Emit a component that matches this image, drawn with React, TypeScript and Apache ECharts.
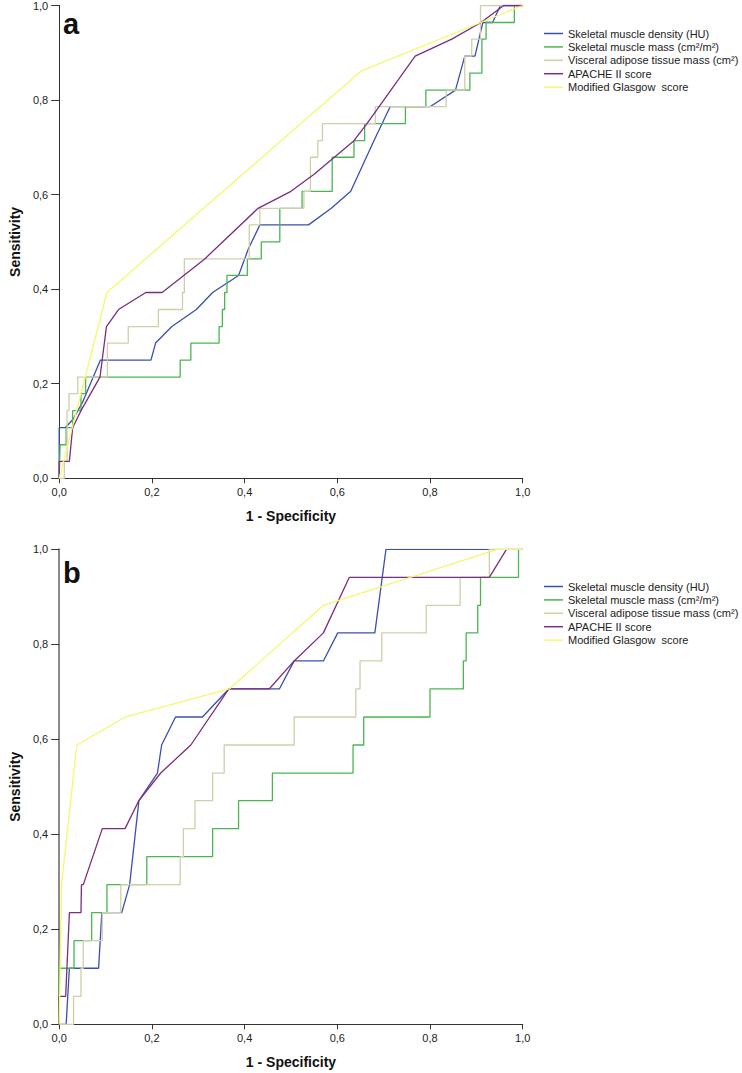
import React, { useEffect, useRef } from "react";
import * as echarts from "echarts";

type Pt = [number, number];

const seriesNames = [
  "Skeletal muscle density (HU)",
  "Skeletal muscle mass (cm²/m²)",
  "Visceral adipose tissue mass (cm²)",
  "APACHE II score",
  "Modified Glasgow  score",
];
const seriesColors = ["#3a4fb0", "#4bb552", "#cfcfa8", "#7b2d7f", "#f7f76e"];
const tickValues = [0, 0.2, 0.4, 0.6, 0.8, 1.0];
const panelLabels = ["a", "b"];

// Panel a
const aDensity: Pt[] = [
  [0, 0], [0, 0.107], [0.013, 0.107], [0.03, 0.125], [0.05, 0.16], [0.089, 0.25], [0.198, 0.25],
  [0.208, 0.286], [0.243, 0.321], [0.296, 0.357], [0.331, 0.393], [0.387, 0.429], [0.408, 0.485],
  [0.433, 0.536], [0.538, 0.536], [0.587, 0.571], [0.629, 0.607], [0.679, 0.714], [0.714, 0.786],
  [0.8, 0.786], [0.855, 0.821], [0.875, 0.893], [0.897, 0.893], [0.914, 0.964], [0.935, 0.964],
  [0.952, 1], [1, 1],
];
const aMass: Pt[] = [
  [0, 0], [0.002, 0.071], [0.015, 0.071], [0.015, 0.107], [0.029, 0.107], [0.029, 0.143],
  [0.047, 0.143], [0.047, 0.179], [0.057, 0.179], [0.057, 0.214], [0.261, 0.214], [0.261, 0.25],
  [0.284, 0.25], [0.284, 0.286], [0.345, 0.286], [0.345, 0.321], [0.352, 0.321], [0.352, 0.357],
  [0.357, 0.357], [0.357, 0.393], [0.362, 0.393], [0.362, 0.429], [0.406, 0.429], [0.406, 0.464],
  [0.436, 0.464], [0.436, 0.5], [0.476, 0.5], [0.476, 0.571], [0.524, 0.571], [0.524, 0.607],
  [0.589, 0.607], [0.589, 0.679], [0.636, 0.679], [0.636, 0.714], [0.659, 0.714], [0.659, 0.75],
  [0.747, 0.75], [0.747, 0.786], [0.791, 0.786], [0.791, 0.821], [0.886, 0.821], [0.886, 0.857],
  [0.912, 0.857], [0.912, 0.929], [0.921, 0.929], [0.921, 0.964], [0.982, 0.964], [0.982, 1], [1, 1],
];
const aVisceral: Pt[] = [
  [0, 0], [0.011, 0], [0.011, 0.036], [0.017, 0.036], [0.017, 0.143], [0.021, 0.143], [0.021, 0.179],
  [0.04, 0.179], [0.04, 0.214], [0.104, 0.214], [0.104, 0.286], [0.149, 0.286], [0.149, 0.321],
  [0.214, 0.321], [0.214, 0.357], [0.266, 0.357], [0.266, 0.393], [0.27, 0.393], [0.27, 0.464],
  [0.41, 0.464], [0.41, 0.536], [0.433, 0.536], [0.433, 0.571], [0.528, 0.571], [0.528, 0.607],
  [0.542, 0.607], [0.542, 0.679], [0.558, 0.679], [0.558, 0.714], [0.568, 0.714], [0.568, 0.75],
  [0.682, 0.75], [0.682, 0.786], [0.835, 0.786], [0.835, 0.821], [0.875, 0.821], [0.875, 0.893],
  [0.89, 0.893], [0.89, 0.929], [0.909, 0.929], [0.909, 1], [1, 1],
];
const aApache: Pt[] = [
  [0, 0], [0, 0.036], [0.022, 0.036], [0.029, 0.107], [0.047, 0.143], [0.088, 0.214], [0.102, 0.321],
  [0.128, 0.357], [0.187, 0.393], [0.222, 0.393], [0.314, 0.464], [0.429, 0.571], [0.5, 0.607],
  [0.55, 0.643], [0.636, 0.714], [0.664, 0.75], [0.768, 0.893], [0.847, 0.929], [0.91, 0.964],
  [0.959, 1], [1, 1],
];
const aGlasgow: Pt[] = [[0, 0], [0.103, 0.393], [0.651, 0.861], [1, 1]];

// Panel b
const bDensity: Pt[] = [
  [0, 0], [0.015, 0], [0.022, 0.118], [0.085, 0.118], [0.092, 0.235], [0.135, 0.235], [0.152, 0.294],
  [0.172, 0.471], [0.212, 0.529], [0.221, 0.588], [0.251, 0.647], [0.309, 0.647], [0.366, 0.706],
  [0.475, 0.706], [0.507, 0.765], [0.57, 0.765], [0.601, 0.824], [0.681, 0.824], [0.705, 1], [1, 1],
];
const bMass: Pt[] = [
  [0, 0], [0, 0.118], [0.032, 0.118], [0.032, 0.176], [0.07, 0.176], [0.07, 0.235], [0.103, 0.235],
  [0.103, 0.294], [0.189, 0.294], [0.189, 0.353], [0.331, 0.353], [0.331, 0.412], [0.387, 0.412],
  [0.387, 0.471], [0.46, 0.471], [0.46, 0.529], [0.634, 0.529], [0.634, 0.588], [0.657, 0.588],
  [0.657, 0.647], [0.8, 0.647], [0.8, 0.706], [0.872, 0.706], [0.872, 0.765], [0.878, 0.765],
  [0.878, 0.824], [0.903, 0.824], [0.903, 0.882], [0.909, 0.882], [0.909, 0.941], [0.991, 0.941],
  [0.991, 1], [1, 1],
];
const bVisceral: Pt[] = [
  [0, 0], [0.031, 0], [0.031, 0.059], [0.047, 0.059], [0.047, 0.118], [0.052, 0.118], [0.052, 0.176],
  [0.093, 0.176], [0.093, 0.235], [0.133, 0.235], [0.133, 0.294], [0.261, 0.294], [0.261, 0.353],
  [0.268, 0.353], [0.268, 0.412], [0.293, 0.412], [0.293, 0.471], [0.331, 0.471], [0.331, 0.529],
  [0.356, 0.529], [0.356, 0.588], [0.507, 0.588], [0.507, 0.647], [0.64, 0.647], [0.64, 0.706],
  [0.649, 0.706], [0.649, 0.765], [0.696, 0.765], [0.696, 0.824], [0.792, 0.824], [0.792, 0.882],
  [0.865, 0.882], [0.865, 0.941], [0.928, 0.941], [0.928, 1], [1, 1],
];
const bApache: Pt[] = [
  [0, 0], [0, 0.059], [0.014, 0.059], [0.022, 0.235], [0.047, 0.235], [0.048, 0.294], [0.052, 0.294],
  [0.093, 0.412], [0.142, 0.412], [0.172, 0.471], [0.219, 0.529], [0.284, 0.588], [0.366, 0.706],
  [0.453, 0.706], [0.507, 0.765], [0.57, 0.824], [0.626, 0.941], [0.928, 0.941], [0.965, 1], [1, 1],
];
const bGlasgow: Pt[] = [
  [0, 0], [0.005, 0.294], [0.038, 0.588], [0.143, 0.647], [0.367, 0.706], [0.57, 0.882], [0.945, 1], [1, 1],
];

const panelData: Pt[][][] = [
  [aDensity, aMass, aVisceral, aApache, aGlasgow],
  [bDensity, bMass, bVisceral, bApache, bGlasgow],
];

const FONT = "Liberation Sans, Arial, sans-serif";
const fmt = (v: number) => v.toFixed(1).replace(".", ",");

export default function App() {
  const ref = useRef<HTMLDivElement>(null);
  useEffect(() => {
    if (!ref.current) return;
    const chart = echarts.init(ref.current, undefined, { renderer: "svg" });

    const grids = [
      { left: 47.7, top: 4, width: 475, height: 474.3 },
      { left: 47.7, top: 549.3, width: 475, height: 475 },
    ];
    const rightColors = ["#333", "#8a8a8a"];
    const rightWidths = [1, 2];

    const xAxis: any[] = [];
    const yAxis: any[] = [];
    grids.forEach((_, gi) => {
      xAxis.push({
        type: "value", gridIndex: gi, min: 0, max: 1, interval: 0.2, position: "bottom",
        name: "1 - Specificity", nameLocation: "middle", nameGap: 31,
        nameTextStyle: { fontFamily: FONT, fontSize: 14, fontWeight: "bold", color: "#111" },
        axisLine: { lineStyle: { color: "#333", width: 1 } },
        axisTick: { show: true, length: 5, lineStyle: { color: "#333" } },
        axisLabel: { formatter: fmt, fontFamily: FONT, fontSize: 11, color: "#222", margin: 8 },
        splitLine: { show: false },
      });
      xAxis.push({
        type: "value", gridIndex: gi, min: 0, max: 1, position: "top",
        axisLine: { show: true, lineStyle: { color: "#333", width: 1 } },
        axisTick: { show: false }, axisLabel: { show: false }, splitLine: { show: false },
      });
      yAxis.push({
        type: "value", gridIndex: gi, min: 0, max: 1, interval: 0.2, position: "left",
        name: "Sensitivity", nameLocation: "middle", nameGap: 32,
        nameTextStyle: { fontFamily: FONT, fontSize: 14, fontWeight: "bold", color: "#111" },
        axisLine: { show: true, lineStyle: { color: "#333", width: 1 } },
        axisTick: { show: true, length: 8, lineStyle: { color: "#333" } },
        axisLabel: { formatter: fmt, fontFamily: FONT, fontSize: 11, color: "#222", margin: 11 },
        splitLine: { show: false },
      });
      yAxis.push({
        type: "value", gridIndex: gi, min: 0, max: 1, position: "right",
        axisLine: { show: true, lineStyle: { color: rightColors[gi], width: rightWidths[gi] } },
        axisTick: { show: false }, axisLabel: { show: false }, splitLine: { show: false },
      });
    });

    const series: any[] = [];
    panelData.forEach((panel, gi) => {
      panel.forEach((pts, si) => {
        series.push({
          type: "line",
          name: seriesNames[si],
          xAxisIndex: gi * 2,
          yAxisIndex: gi * 2,
          data: pts,
          symbol: "none",
          lineStyle: { color: seriesColors[si], width: 1.3 },
          itemStyle: { color: seriesColors[si] },
          z: 2 + si,
        });
      });
    });

    const legendTops = [22.5, 575.5];
    const legend = legendTops.map((t) => ({
      orient: "vertical",
      left: 539,
      top: t,
      data: seriesNames,
      icon: "rect",
      itemWidth: 19,
      itemHeight: 1.5,
      itemGap: 1.4,
      selectedMode: false,
      textStyle: { fontFamily: FONT, fontSize: 11, color: "#222", lineHeight: 12 },
    }));

    chart.setOption({
      animation: false,
      backgroundColor: "#fff",
      grid: grids,
      xAxis,
      yAxis,
      series,
      legend,
      graphic: panelLabels.map((lab, gi) => ({
        type: "text",
        left: 63,
        top: gi === 0 ? 9 : 558,
        style: { text: lab, font: `bold 29px ${FONT}`, fill: "#111" },
      })),
    });
    return () => chart.dispose();
  }, []);
  return (
    <div
      ref={ref}
      style={{ position: "absolute", left: 0, top: 0, width: 742, height: 1073, background: "#fff" }}
    />
  );
}
